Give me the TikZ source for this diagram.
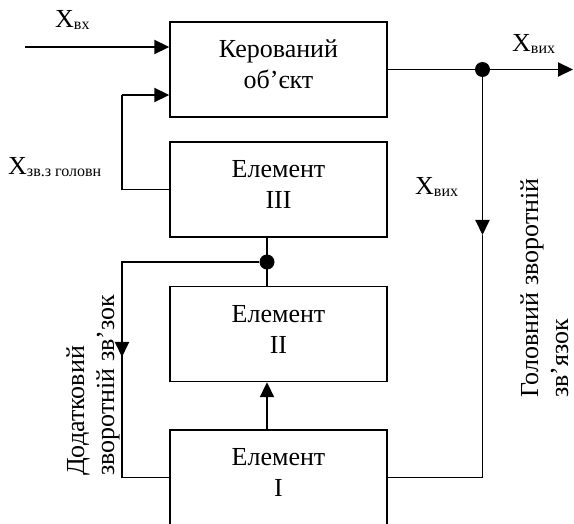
\documentclass[tikz,border=0pt]{standalone}
\usepackage{fontspec}
\setmainfont{Liberation Serif}
\usetikzlibrary{arrows.meta}
\newcommand\sbx[1]{\raisebox{-2pt}{\fontsize{16}{16}\selectfont #1}}
\begin{document}
\begin{tikzpicture}[x=1pt,y=-1pt,
  box/.style={draw, line width=1.4pt, minimum width=217pt, minimum height=95pt, inner sep=0pt},
  txt/.style={font=\fontsize{26}{31}\selectfont, align=center, inner sep=0pt},
  lbl/.style={font=\fontsize{26}{31}\selectfont, inner sep=0pt, anchor=base west},
  rot/.style={font=\fontsize{26}{31}\selectfont, inner sep=0pt, anchor=base west, rotate=90},
  conn/.style={line width=1.9pt},
  arr/.style={conn, -{Triangle[length=15pt,width=14pt]}},
  dot/.style={circle, fill, inner sep=0pt, minimum size=15pt}]
\useasboundingbox (0,0) rectangle (574,524);
\clip (0,0) rectangle (574,524);
% boxes
\node[box] (obj) at (278.5,69.5) {};
\node[box] (e3) at (278.5,189.5) {};
\node[box] (e2) at (278.5,334) {};
\node[box] (e1) at (278.5,477.5) {};
\node[txt] (objt) at ([yshift=5pt]obj.center) {Керований\\об’єкт};
\node[txt] (e3t) at ([yshift=5pt]e3.center) {Елемент\\III};
\node[txt] (e2t) at ([yshift=5pt]e2.center) {Елемент\\II};
\node[txt] (e1t) at ([yshift=5pt]e1.center) {Елемент\\I};
% coordinates and junctions
\coordinate (in0) at (25,47);
\coordinate (fbA) at (122,95);
\coordinate (out) at (573,69.5);
\coordinate (ra) at (482.5,235);
\coordinate (la) at (122,357);
\node[dot] (j1) at (482.5,69.5) {};
\node[dot] (j2) at (267,262) {};
% connectors
\draw[arr] (in0) -- (obj.west |- in0);
\draw[conn] (e3.west) -| (fbA);
\draw[arr] (fbA) -- (obj.west |- fbA);
\draw[conn] (obj.east) -- (j1);
\draw[arr] (j1) -- (out);
\draw[arr] (j1) -- (ra);
\draw[conn] (ra) |- (e1.east);
\draw[conn] (j2 |- e3.south) -- (j2 |- e2.north);
\draw[conn] (j2) -| (la);
\draw[arr] (j2 -| la) -- (la);
\draw[conn] (la) |- (e1.west);
\draw[arr] (j2 |- e1.north) -- (j2 |- e2.south);
% labels
\node[lbl] (xin) at (55,28) {X\sbx{вх}};
\node[lbl] (xout) at (512,52) {X\sbx{вих}};
\node[lbl] (xout2) at (415,195) {X\sbx{вих}};
\node[lbl] (xfb) at (8,175) {X\sbx{зв.з головн}};
\node[rot] (lt1) at (84,476) {Додатковий};
\node[rot] (lt2) at (114,476) {зворотній зв’зок};
\node[rot] (rt1) at (538,398) {Головний зворотній};
\node[rot] (rt2) at (568,398) {зв’язок};
\end{tikzpicture}
\end{document}
